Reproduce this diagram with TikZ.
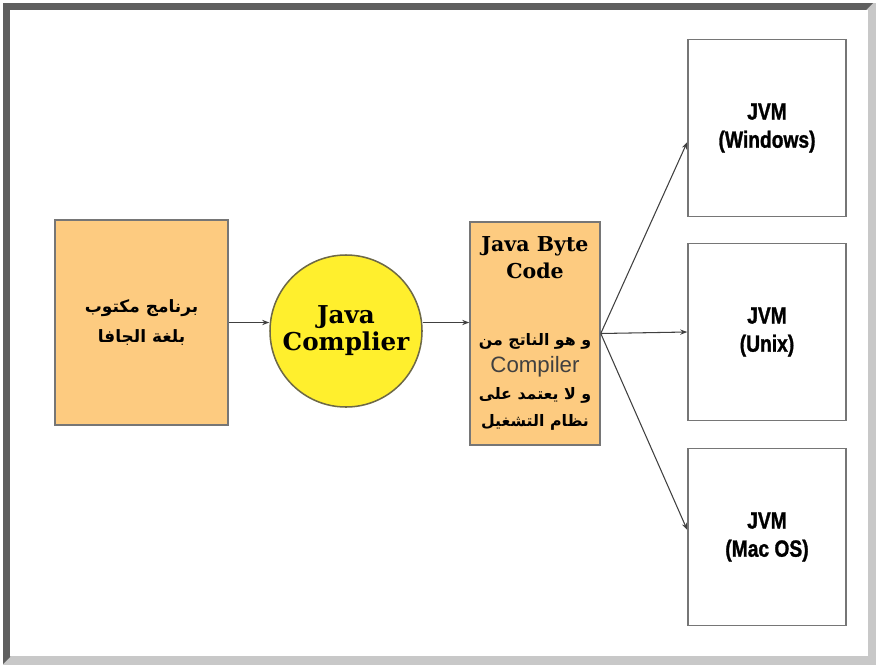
\documentclass[tikz,border=0pt]{standalone}
\usepackage{fontspec}
\usepackage{xcolor}
\usepackage{tikz}
\usetikzlibrary{arrows.meta,positioning}
\setmainfont{Liberation Sans}
\newfontfamily\arabicfont[Script=Arabic]{DejaVu Sans}
\newfontfamily\slabfont{DejaVu Serif}
\newfontfamily\jvmfont[FakeStretch=0.82,FakeBold=1.2]{Liberation Sans}
\TeXXeTstate=1
\definecolor{boxorange}{RGB}{253,203,128}
\definecolor{compyellow}{RGB}{255,239,45}
\definecolor{compedge}{RGB}{110,105,70}
\definecolor{edgegray}{RGB}{118,118,118}
\definecolor{framedark}{RGB}{95,95,95}
\definecolor{framelight}{RGB}{200,200,200}

\begin{document}
\begin{tikzpicture}[x=0.03cm,y=-0.03cm,>={Stealth[length=6pt,width=4.5pt]},
box/.style={draw=edgegray,line width=1.3pt,align=center,inner sep=0pt},
jvm/.style={box,fill=white,minimum width=4.74cm,minimum height=5.31cm,font=\jvmfont\bfseries\fontsize{20}{24}\selectfont},
link/.style={->,draw=black!75,line width=0.9pt}]
\useasboundingbox(0,0)rectangle(878,667);
\fill[white](0,0)rectangle(878,667);
\fill[framelight](3,3)rectangle(876,665);
\fill[framedark](3,3)--(873,3)--(866,10)--(10,10)--(10,657)--(3,664)--cycle;
\fill[white](10,10)rectangle(868,656);
\node[box,fill=boxorange,minimum width=5.19cm,minimum height=6.15cm,font=\arabicfont\bfseries\fontsize{14.5}{25}\selectfont](prog)at(141.5,322.5)
{\beginR برنامج مكتوب\endR\\\beginR بلغة الجافا\endR};
\node[circle,draw=compedge,line width=1.3pt,fill=compyellow,minimum size=4.56cm,inner sep=0pt,align=center,font=\slabfont\bfseries\fontsize{21}{23}\selectfont](comp)at(346,331)
{Java\\Complier};
\node[box,fill=boxorange,minimum width=3.9cm,minimum height=6.69cm,font=\fontsize{14}{23}\selectfont](code)at(535,333.5)
{{\slabfont\bfseries\fontsize{17.5}{23}\selectfont Java Byte}\\
{\slabfont\bfseries\fontsize{17.5}{23}\selectfont Code}\\[34pt]
{\arabicfont\bfseries\fontsize{13.5}{23}\selectfont\beginR و هو الناتج من\endR}\\
{\color{black!75}\fontsize{19}{23}\selectfont Compiler}\\
{\arabicfont\bfseries\fontsize{13.5}{23}\selectfont\beginR و لا يعتمد على\endR}\\
{\arabicfont\bfseries\fontsize{13.5}{23}\selectfont\beginR نظام التشغيل\endR}};
\node[jvm](win)at(767,128){JVM\\(Windows)};
\node[jvm](unix)at(767,332){JVM\\(Unix)};
\node[jvm](mac)at(767,537){JVM\\(Mac OS)};
\draw[link](prog.east)--(comp.west|-prog.east);
\draw[link](comp.east|-prog.east)--(code.west|-prog.east);
\draw[link](code.east)--([yshift=-12pt]win.west);
\draw[link](code.east)--(unix.west);
\draw[link](code.east)--([yshift=6pt]mac.west);
\end{tikzpicture}
\end{document}
